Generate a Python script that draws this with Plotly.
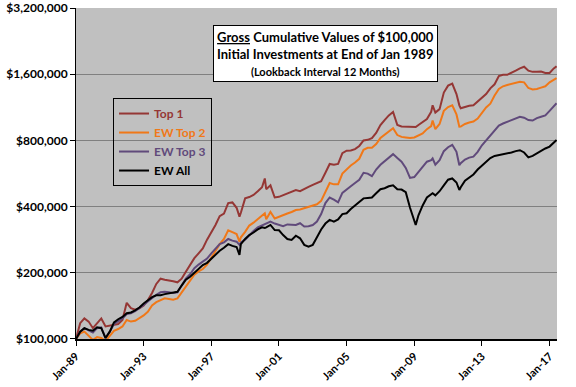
import math
import plotly.graph_objects as go

# Month-end observation dates (quarterly, plus a few turning points)
dates = [
    "1989-01", "1989-04", "1989-07", "1989-10",
    "1990-01", "1990-04", "1990-07", "1990-10",
    "1991-01", "1991-04", "1991-07", "1991-10",
    "1992-01", "1992-04", "1992-07", "1992-10",
    "1993-01", "1993-04", "1993-07", "1993-10",
    "1994-01", "1994-04", "1994-07", "1994-10",
    "1995-01", "1995-04", "1995-07", "1995-10",
    "1996-01", "1996-04", "1996-07", "1996-10",
    "1997-01", "1997-04", "1997-07", "1997-10",
    "1998-01", "1998-04", "1998-07", "1998-09", "1998-10",
    "1999-01", "1999-04", "1999-07", "1999-10",
    "2000-01", "2000-03", "2000-04", "2000-07", "2000-10",
    "2001-01", "2001-04", "2001-07", "2001-10",
    "2002-01", "2002-04", "2002-07", "2002-10",
    "2003-01", "2003-04", "2003-07", "2003-10",
    "2004-01", "2004-04", "2004-07", "2004-10",
    "2005-01", "2005-04", "2005-07", "2005-10",
    "2006-01", "2006-04", "2006-07", "2006-10",
    "2007-01", "2007-04", "2007-07", "2007-10",
    "2008-01", "2008-04", "2008-07", "2008-10",
    "2009-01", "2009-02", "2009-04", "2009-07", "2009-10",
    "2010-01", "2010-02", "2010-04", "2010-07", "2010-10",
    "2011-01", "2011-04", "2011-07", "2011-09", "2011-10",
    "2012-01", "2012-04", "2012-07", "2012-10",
    "2013-01", "2013-04", "2013-07", "2013-10",
    "2014-01", "2014-04", "2014-07", "2014-10",
    "2015-01", "2015-04", "2015-07", "2015-10",
    "2016-01", "2016-04", "2016-07", "2016-10",
    "2017-01", "2017-04", "2017-06",
]

# Cumulative values in thousands of dollars
top1 = [
    100, 118, 124, 120,
    112, 118, 124, 114,
    115, 116, 117, 122,
    146, 138, 136, 138,
    142, 150, 162, 178,
    188, 186, 185, 183,
    181, 188, 202, 218,
    233, 245, 258, 283,
    305, 330, 362, 372,
    415, 418, 395, 360, 375,
    436, 442, 452, 470,
    490, 537, 480, 500, 440,
    443, 450, 460, 468,
    476, 470, 482, 492,
    502, 510, 522, 570,
    625, 620, 625, 700,
    718, 720, 730, 755,
    800, 805, 820, 865,
    940, 990, 1040, 1077,
    940, 925, 925, 920,
    922, 920, 940, 972, 1000,
    1080, 1155, 1070, 1110, 1320,
    1420, 1450, 1300, 1155, 1120,
    1135, 1150, 1155, 1200,
    1250, 1300, 1380, 1440,
    1570, 1590, 1590, 1620,
    1660, 1700, 1730, 1660,
    1640, 1640, 1645, 1620,
    1620, 1700, 1740,
]

ew_top2 = [
    100, 106, 108, 103,
    99, 102, 101, 98,
    104, 109, 111, 114,
    122, 120, 121, 124,
    128, 133, 142, 147,
    150, 153, 152, 151,
    153, 163, 172, 184,
    196, 203, 208, 218,
    235, 252, 270, 285,
    312, 306, 300, 277, 290,
    307, 328, 338, 350,
    365, 373, 350, 378, 353,
    360, 365, 372, 378,
    386, 388, 393, 400,
    406, 410, 425, 470,
    512, 505, 505, 565,
    592, 615, 635, 660,
    725, 740, 740, 770,
    820, 846, 880, 910,
    846, 830, 825, 820,
    825, 830, 845, 860, 900,
    930, 985, 900, 950, 1090,
    1135, 1155, 1050, 924, 925,
    950, 965, 975, 1005,
    1060, 1130, 1175, 1280,
    1370, 1410, 1430, 1450,
    1465, 1480, 1470, 1385,
    1365, 1370, 1390, 1410,
    1470, 1510, 1535,
]

ew_top3 = [
    100, 108, 112, 109,
    107, 112, 113, 101,
    108, 117, 121, 124,
    130, 131, 134, 138,
    143, 148, 154, 159,
    163, 164, 163, 162,
    163, 175, 188, 197,
    210, 218, 225, 232,
    245, 258, 270, 275,
    285, 280, 277, 268, 275,
    283, 297, 310, 322,
    328, 332, 333, 342, 335,
    330, 326, 332, 330,
    330, 336, 325, 326,
    330, 342, 370, 415,
    440, 430, 418, 462,
    480, 495, 512, 530,
    570, 565, 550, 590,
    620, 645, 670, 693,
    665, 640, 600, 540,
    545, 555, 580, 610, 640,
    650, 662, 620, 650, 715,
    745, 764, 710, 617, 630,
    655, 668, 675, 710,
    760, 800, 850, 895,
    935, 955, 972, 985,
    1000, 1025, 1015, 990,
    985, 1010, 1025, 1040,
    1090, 1140, 1180,
]

ew_all = [
    100, 108, 112, 110,
    109, 113, 112, 101,
    108, 119, 123, 126,
    131, 132, 135, 139,
    145, 150, 155, 158,
    158, 160, 161, 162,
    164, 175, 186, 192,
    200, 210, 217, 222,
    232, 243, 252, 260,
    270, 265, 262, 241, 270,
    285, 297, 305, 315,
    322, 320, 322, 330, 313,
    312, 297, 285, 282,
    295, 287, 268, 263,
    268, 290, 315, 335,
    348, 342, 350, 370,
    373, 390, 405, 418,
    436, 438, 440, 460,
    480, 485, 495, 500,
    480, 478, 465, 395,
    345, 330, 365, 405, 440,
    455, 460, 450, 470, 500,
    530, 537, 515, 476, 490,
    525, 545, 560, 590,
    615, 640, 665, 680,
    685, 695, 700, 705,
    715, 722, 705, 670,
    680, 700, 715, 735,
    750, 785, 804,
]

series_names = ["Top 1", "EW Top 2", "EW Top 3", "EW All"]
series_colors = ["#953735", "#F07818", "#604A7B", "#000000"]
series_values = [top1, ew_top2, ew_top3, ew_all]

y_tick_vals = [100000, 200000, 400000, 800000, 1600000, 3200000]
y_tick_text = ["$100,000", "$200,000", "$400,000", "$800,000", "$1,600,000", "$3,200,000"]
x_tick_vals = ["1989-01-01", "1993-01-01", "1997-01-01", "2001-01-01",
               "2005-01-01", "2009-01-01", "2013-01-01", "2017-01-01"]
x_tick_text = ["Jan-89", "Jan-93", "Jan-97", "Jan-01", "Jan-05", "Jan-09", "Jan-13", "Jan-17"]

FONT = "Lato, Liberation Sans, sans-serif"

for s in series_values:
    assert len(s) == len(dates)

fig = go.Figure()
for name, color, vals in zip(series_names, series_colors, series_values):
    fig.add_trace(go.Scatter(
        x=dates, y=[v * 1000 for v in vals], mode="lines",
        name=f"<span style='color:{color}'>{name}</span>",
        line=dict(color=color, width=2),
    ))

fig.update_layout(
    width=576, height=387,
    margin=dict(l=76, r=19, t=8, b=48, autoexpand=False),
    paper_bgcolor="white", plot_bgcolor="#C0C0C0",
    showlegend=True,
    legend=dict(x=0.077, y=0.728, xanchor="left", yanchor="top",
                bgcolor="rgba(0,0,0,0)", bordercolor="black", borderwidth=1,
                font=dict(family=FONT, size=12, weight="bold", color="black"),
                itemwidth=30, tracegroupgap=0),
    font=dict(family=FONT, color="black"),
)

fig.update_yaxes(
    type="log", range=[math.log10(99990), math.log10(3201000)],
    tickvals=y_tick_vals, ticktext=y_tick_text, automargin=False,
    showgrid=True, gridcolor="#808080", gridwidth=1,
    showline=True, linecolor="black", linewidth=1,
    ticks="outside", ticklen=5, tickcolor="black",
    tickfont=dict(family=FONT, size=12, weight="bold", color="black"),
    zeroline=False,
)
fig.update_xaxes(
    type="date", range=["1989-01-01", "2017-06-10"], automargin=False,
    tickvals=x_tick_vals, ticktext=x_tick_text, tickangle=-45,
    showgrid=False, showline=True, linecolor="black", linewidth=1.5,
    ticks="outside", ticklen=5, tickcolor="black",
    tickfont=dict(family=FONT, size=11, weight="bold", color="black"),
    zeroline=False,
)

fig.add_annotation(
    xref="paper", yref="paper", x=0.518, y=0.864, xanchor="center", yanchor="middle",
    text=("<b><span style='text-decoration:underline'>Gross</span> Cumulative Values of $100,000</b><br>"
          "<b>Initial Investments at End of Jan 1989</b><br>"
          "<b><span style='font-size:11px'>(Lookback Interval 12 Months)</span></b>"),
    showarrow=False, align="center",
    font=dict(family=FONT, size=13, color="black"),
    bgcolor="white", bordercolor="black", borderwidth=1, borderpad=3,
)

fig.write_html("out.html", config={"displayModeBar": False},
               post_script="document.body.style.margin='0';")
